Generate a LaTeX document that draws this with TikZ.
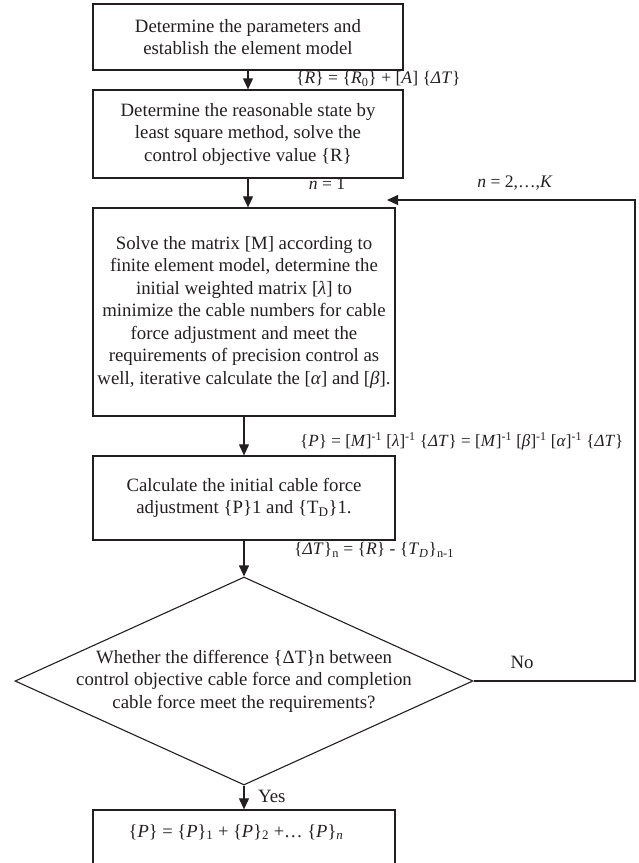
\documentclass[tikz,border=0pt]{standalone}
\usepackage{fontspec}
\setmainfont{Liberation Serif}
\usetikzlibrary{arrows.meta,shapes.geometric}
\definecolor{ink}{HTML}{231F20}
\begin{document}
\begin{tikzpicture}[x=1pt,y=-1pt,
  every node/.style={text=ink},
  txt/.style={font=\fontsize{18.8}{22.5}\selectfont, align=center},
  lbl/.style={font=\fontsize{17.6}{20}\selectfont, inner sep=0pt},
  box/.style={draw=ink, line width=1.3pt, rectangle, inner sep=0pt},
  arr/.style={draw=ink, line width=1.1pt, -{Triangle[length=11pt,width=10pt]}},
  ln/.style={draw=ink, line width=1.1pt}]
\useasboundingbox (0,0) rectangle (638,863);
\clip (0,0) rectangle (638,863);
% boxes
\node[box, minimum width=310pt, minimum height=66pt] (b1) at (248,37) {};
\node[txt] (t1) at (b1.center) {Determine the parameters and\\establish the element model};
\node[box, minimum width=310pt, minimum height=88pt] (b2) at (248,134) {};
\node[txt] (t2) at (b2.center) {Determine the reasonable state by\\least square method, solve the\\control objective value \{R\}};
\node[box, minimum width=302pt, minimum height=208pt] (b3) at (244,312) {};
\node[txt] (t3) at (b3.center) {Solve the matrix [M] according to\\finite element model, determine the\\initial weighted matrix [\textit{λ}] to\\minimize the cable numbers for cable\\force adjustment and meet the\\requirements of precision control as\\well, iterative calculate the [\textit{α}] and [\textit{β}].};
\node[box, minimum width=302pt, minimum height=84pt] (b4) at (244,498) {};
\node[txt] (t4) at (b4.center) {Calculate the initial cable force\\adjustment \{P\}1 and \{T\textsubscript{D}\}1.};
\node[draw=ink, line width=1.1pt, diamond, minimum width=458pt, minimum height=208pt, inner sep=0pt] (d) at (244,681) {};
\node[txt] (td) at (d.center) {Whether the difference \{ΔT\}n between\\control objective cable force and completion\\cable force meet the requirements?};
\node[box, minimum width=302pt, minimum height=90pt] (b5) at (244,855) {};
\node[lbl, font=\fontsize{18.5}{20}\selectfont] (t5) at (236,832) {\{\textit{P}\} = \{\textit{P}\}\textsubscript{1} + \{\textit{P}\}\textsubscript{2} +… \{\textit{P}\}\textsubscript{\textit{n}}};
% connectors
\draw[arr] (b1) -- (b2);
\draw[arr] (b2.south) -- (b2.south |- b3.north);
\draw[arr] (b3) -- (b4);
\draw[arr] (b4) -- (d.north);
\draw[arr] (d.south) -- (b5.north);
\coordinate (rc) at (635,200);
\coordinate (fb) at (387,200);
\draw[arr] (d.east) -| (rc) -- (fb);
% labels
\node[lbl, anchor=west] (f1) at (296,79) {\{\textit{R}\} = \{\textit{R}\textsubscript{0}\} + [\textit{A}] \{\textit{ΔT}\}};
\node[lbl] (n1) at (327,184) {\textit{n} = 1};
\node[lbl] (n2) at (515,183) {\textit{n} = 2,…,\textit{K}};
\node[lbl, anchor=west, font=\fontsize{17.1}{20}\selectfont] (f2) at (300,441) {\{\textit{P}\} = [\textit{M}]\textsuperscript{-1} [\textit{λ}]\textsuperscript{-1} \{\textit{ΔT}\} = [\textit{M}]\textsuperscript{-1} [\textit{β}]\textsuperscript{-1} [\textit{α}]\textsuperscript{-1} \{\textit{ΔT}\}};
\node[lbl, anchor=west] (f3) at (294,550) {\{\textit{ΔT}\}\textsubscript{n} = \{\textit{R}\} - \{\textit{T}\textsubscript{\textit{D}}\}\textsubscript{n-1}};
\node[txt, inner sep=0pt] (no) at (522,662) {No};
\node[txt, inner sep=0pt, anchor=west] (yes) at (258,796) {Yes};
\end{tikzpicture}
\end{document}
